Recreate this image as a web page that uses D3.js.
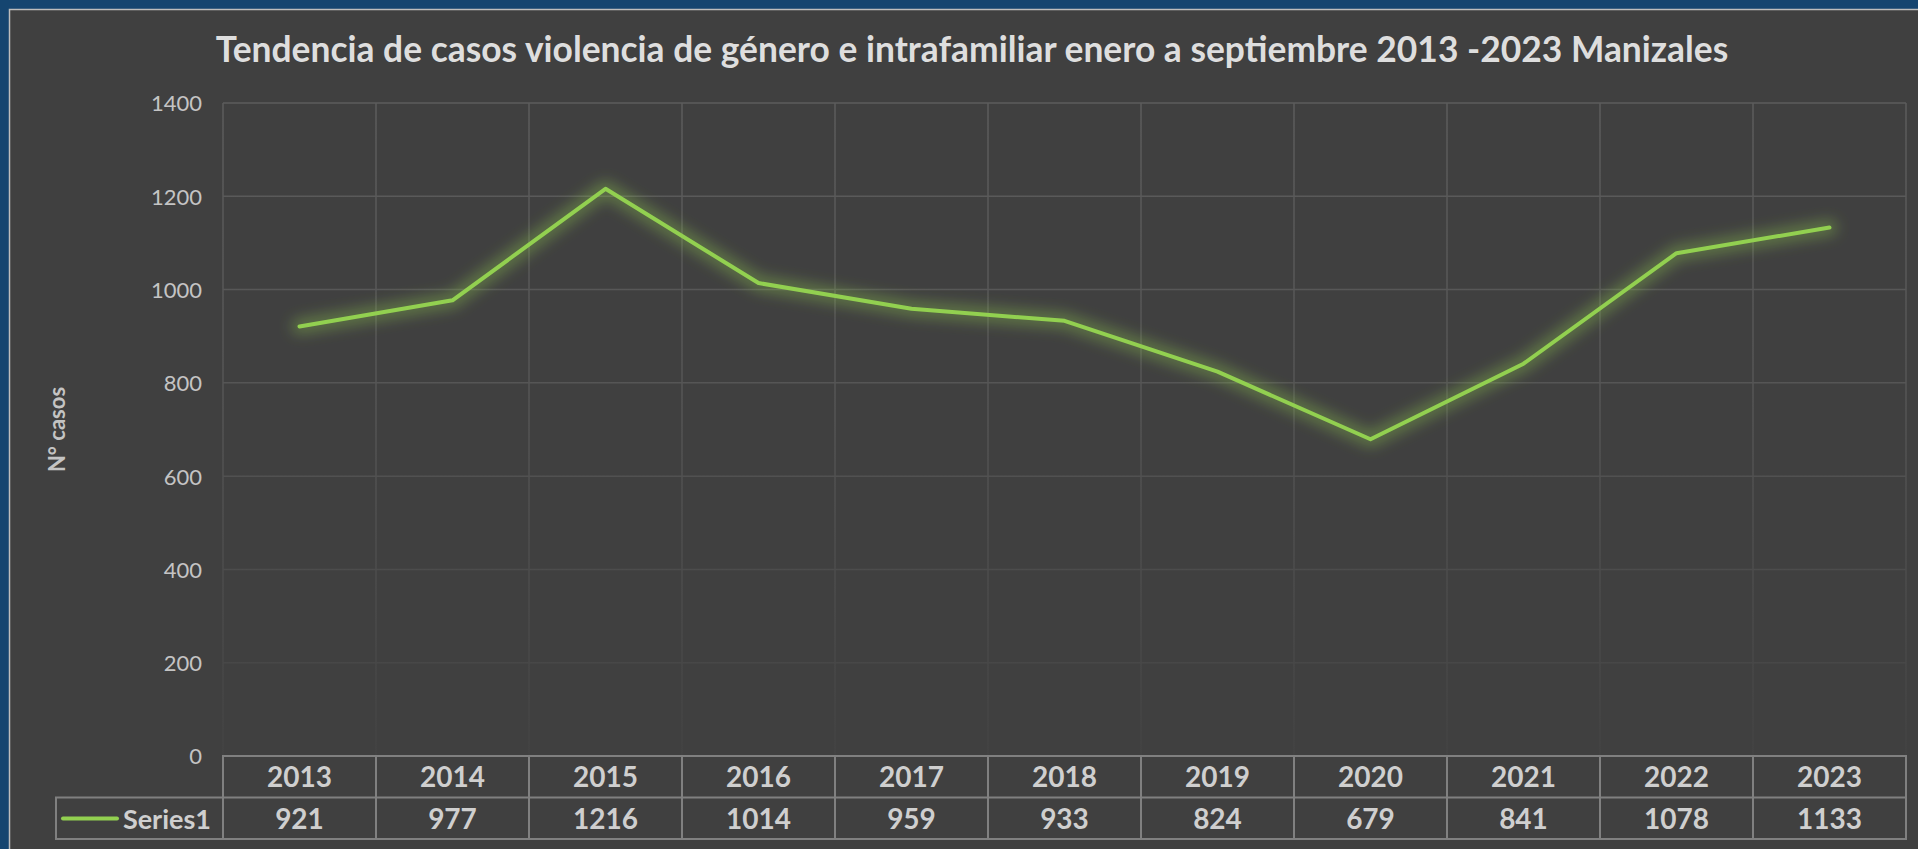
<!DOCTYPE html>
<html>
<head>
<meta charset="utf-8">
<script src="https://cdn.jsdelivr.net/npm/d3@7"></script>
<style>
  html, body { margin: 0; padding: 0; background: #154570; overflow: hidden; }
  svg { display: block; font-family: Lato, "Open Sans", sans-serif; }
</style>
</head>
<body>
<svg id="chart" width="1918" height="849"></svg>
<script>
const years = ['2013', '2014', '2015', '2016', '2017', '2018', '2019', '2020', '2021', '2022', '2023'];
const cases = [921, 977, 1216, 1014, 959, 933, 824, 679, 841, 1078, 1133];
const seriesName = 'Series1';
const yTicks = [0, 200, 400, 600, 800, 1000, 1200, 1400];
const title = 'Tendencia de casos violencia de género e intrafamiliar enero a septiembre 2013 -2023 Manizales';
const yTitle = 'N° casos';

const width = 1918;
const height = 849;
const margin = { left: 223, right: 12, top: 103, bottom: 93 };
const lineColor = '#92d050';

const svg = d3.select('#chart');

// panel behind the chart
svg.append('rect')
  .attr('x', 9.5).attr('y', 9.5)
  .attr('width', width).attr('height', height)
  .attr('fill', '#404040')
  .attr('stroke', '#bdbdbd')
  .attr('stroke-width', 1.5);

const defs = svg.append('defs');

const x = d3.scaleBand()
  .domain(years)
  .range([margin.left, width - margin.right]);

const y = d3.scaleLinear()
  .domain([0, 1400])
  .range([height - margin.bottom, margin.top]);

// gridlines fade out toward the bottom
const grad = defs.append('linearGradient')
  .attr('id', 'gridFade')
  .attr('gradientUnits', 'userSpaceOnUse')
  .attr('x1', 0).attr('x2', 0)
  .attr('y1', y(1400)).attr('y2', y(0));
grad.append('stop').attr('offset', '0%').attr('stop-color', '#5c5c5c');
grad.append('stop').attr('offset', '45%').attr('stop-color', '#555555');
grad.append('stop').attr('offset', '100%').attr('stop-color', '#434343');

const glow = defs.append('filter')
  .attr('id', 'glow')
  .attr('x', '-10%').attr('y', '-30%')
  .attr('width', '120%').attr('height', '160%');
glow.append('feGaussianBlur').attr('stdDeviation', 7);

const grid = svg.append('g');

grid.selectAll('.hgrid')
  .data(yTicks.filter(d => d > 0))
  .enter()
  .append('line')
  .attr('x1', x.range()[0])
  .attr('x2', x.range()[1])
  .attr('y1', d => y(d))
  .attr('y2', d => y(d))
  .attr('stroke', 'url(#gridFade)')
  .attr('stroke-width', 1.5);

const boundaries = years.map(d => x(d)).concat([x.range()[1]]);
grid.selectAll('.vgrid')
  .data(boundaries)
  .enter()
  .append('line')
  .attr('x1', d => d)
  .attr('x2', d => d)
  .attr('y1', y(1400))
  .attr('y2', y(0))
  .attr('stroke', 'url(#gridFade)')
  .attr('stroke-width', 1.5);

// y axis labels
const yAxis = svg.append('g')
  .attr('transform', `translate(${margin.left - 21},0)`)
  .call(d3.axisLeft(y).tickValues(yTicks).tickFormat(d3.format('d')).tickSize(0).tickPadding(0));
yAxis.select('.domain').remove();
yAxis.selectAll('text')
  .attr('fill', '#c4c4c4')
  .attr('dy', '0.36em')
  .style('font-size', '22px')
  .style('font-weight', 400)
  .style('font-family', 'Lato, sans-serif');

svg.append('text')
  .attr('transform', `translate(65,${(y(0) + y(1400)) / 2}) rotate(-90)`)
  .attr('text-anchor', 'middle')
  .attr('fill', '#c4c4c4')
  .style('font-size', '22px')
  .style('font-weight', 700)
  .text(yTitle);

// line with glow
const line = d3.line()
  .x((d, i) => x(years[i]) + x.bandwidth() / 2)
  .y(d => y(d));

svg.append('path')
  .datum(cases)
  .attr('d', line)
  .attr('fill', 'none')
  .attr('stroke', lineColor)
  .attr('stroke-width', 16)
  .attr('stroke-opacity', 0.36)
  .attr('stroke-linejoin', 'round')
  .attr('stroke-linecap', 'round')
  .attr('filter', 'url(#glow)');

svg.append('path')
  .datum(cases)
  .attr('d', line)
  .attr('fill', 'none')
  .attr('stroke', lineColor)
  .attr('stroke-width', 4)
  .attr('stroke-linejoin', 'round')
  .attr('stroke-linecap', 'round');

// data table under the plot
const rowTop = y(0);
const rowH = 41.5;
const legendLeft = 56;
const tableColor = '#808080';
const textColor = '#cfcfcf';

const table = svg.append('g');

table.append('rect')
  .attr('x', x.range()[0]).attr('y', rowTop)
  .attr('width', x.range()[1] - x.range()[0]).attr('height', rowH * 2)
  .attr('fill', 'none').attr('stroke', tableColor).attr('stroke-width', 2);

table.append('rect')
  .attr('x', legendLeft).attr('y', rowTop + rowH)
  .attr('width', x.range()[0] - legendLeft).attr('height', rowH)
  .attr('fill', 'none').attr('stroke', tableColor).attr('stroke-width', 2);

table.append('line')
  .attr('x1', x.range()[0]).attr('x2', x.range()[1])
  .attr('y1', rowTop + rowH).attr('y2', rowTop + rowH)
  .attr('stroke', tableColor).attr('stroke-width', 2);

table.selectAll('.col')
  .data(years.slice(1))
  .enter()
  .append('line')
  .attr('x1', d => x(d)).attr('x2', d => x(d))
  .attr('y1', rowTop).attr('y2', rowTop + rowH * 2)
  .attr('stroke', tableColor).attr('stroke-width', 2);

table.selectAll('.yr')
  .data(years)
  .enter()
  .append('text')
  .attr('x', d => x(d) + x.bandwidth() / 2)
  .attr('y', rowTop + 31)
  .attr('text-anchor', 'middle')
  .attr('fill', textColor)
  .style('font-size', '28px')
  .style('font-weight', 700)
  .text(d => d);

table.selectAll('.val')
  .data(cases)
  .enter()
  .append('text')
  .attr('x', (d, i) => x(years[i]) + x.bandwidth() / 2)
  .attr('y', rowTop + rowH + 31)
  .attr('text-anchor', 'middle')
  .attr('fill', textColor)
  .style('font-size', '28px')
  .style('font-weight', 700)
  .text(d => d);

table.append('line')
  .attr('x1', 63).attr('x2', 117)
  .attr('y1', rowTop + rowH + 21).attr('y2', rowTop + rowH + 21)
  .attr('stroke', lineColor).attr('stroke-width', 4)
  .attr('stroke-linecap', 'round');

table.append('text')
  .attr('x', 211)
  .attr('y', rowTop + rowH + 31)
  .attr('text-anchor', 'end')
  .attr('fill', textColor)
  .style('font-size', '27px')
  .style('font-weight', 700)
  .text(seriesName);

// title, fitted to the measured span
const t = svg.append('text')
  .attr('x', 972)
  .attr('y', 62)
  .attr('text-anchor', 'middle')
  .attr('fill', '#dedede')
  .style('font-size', '34px')
  .style('font-weight', 700)
  .text(title);
const tw = t.node().getComputedTextLength();
t.style('font-size', (34 * 1511 / tw).toFixed(1) + 'px');
</script>
</body>
</html>
